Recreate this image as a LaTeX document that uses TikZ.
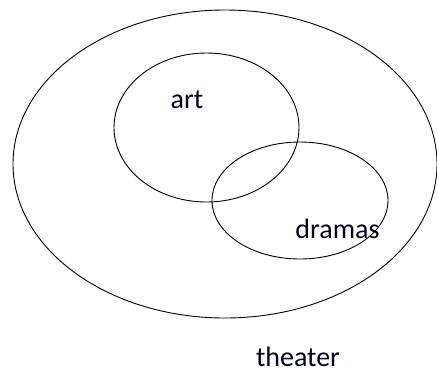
\documentclass[tikz,border=0pt]{standalone}
\usepackage{fontspec}
\setmainfont{Carlito}
\begin{document}
\begin{tikzpicture}[x=1pt,y=-1pt,
  setline/.style={draw=black,line width=0.9pt},
  lbl/.style={font=\fontsize{28}{32}\selectfont,text=black!85!blue,inner sep=0pt}]
\useasboundingbox (0,0) rectangle (437,376);
\draw[setline] (225,164) ellipse [x radius=212pt, y radius=154pt];
\draw[setline] (206.5,127.5) ellipse [x radius=92.5pt, y radius=74.5pt];
\draw[setline] (300,200.5) ellipse [x radius=88pt, y radius=58.5pt];
\node[lbl] (art) at (187,100) {art};
\node[lbl] (dramas) at (337.5,229) {dramas};
\node[lbl] (theater) at (298,357) {theater};
\end{tikzpicture}
\end{document}
